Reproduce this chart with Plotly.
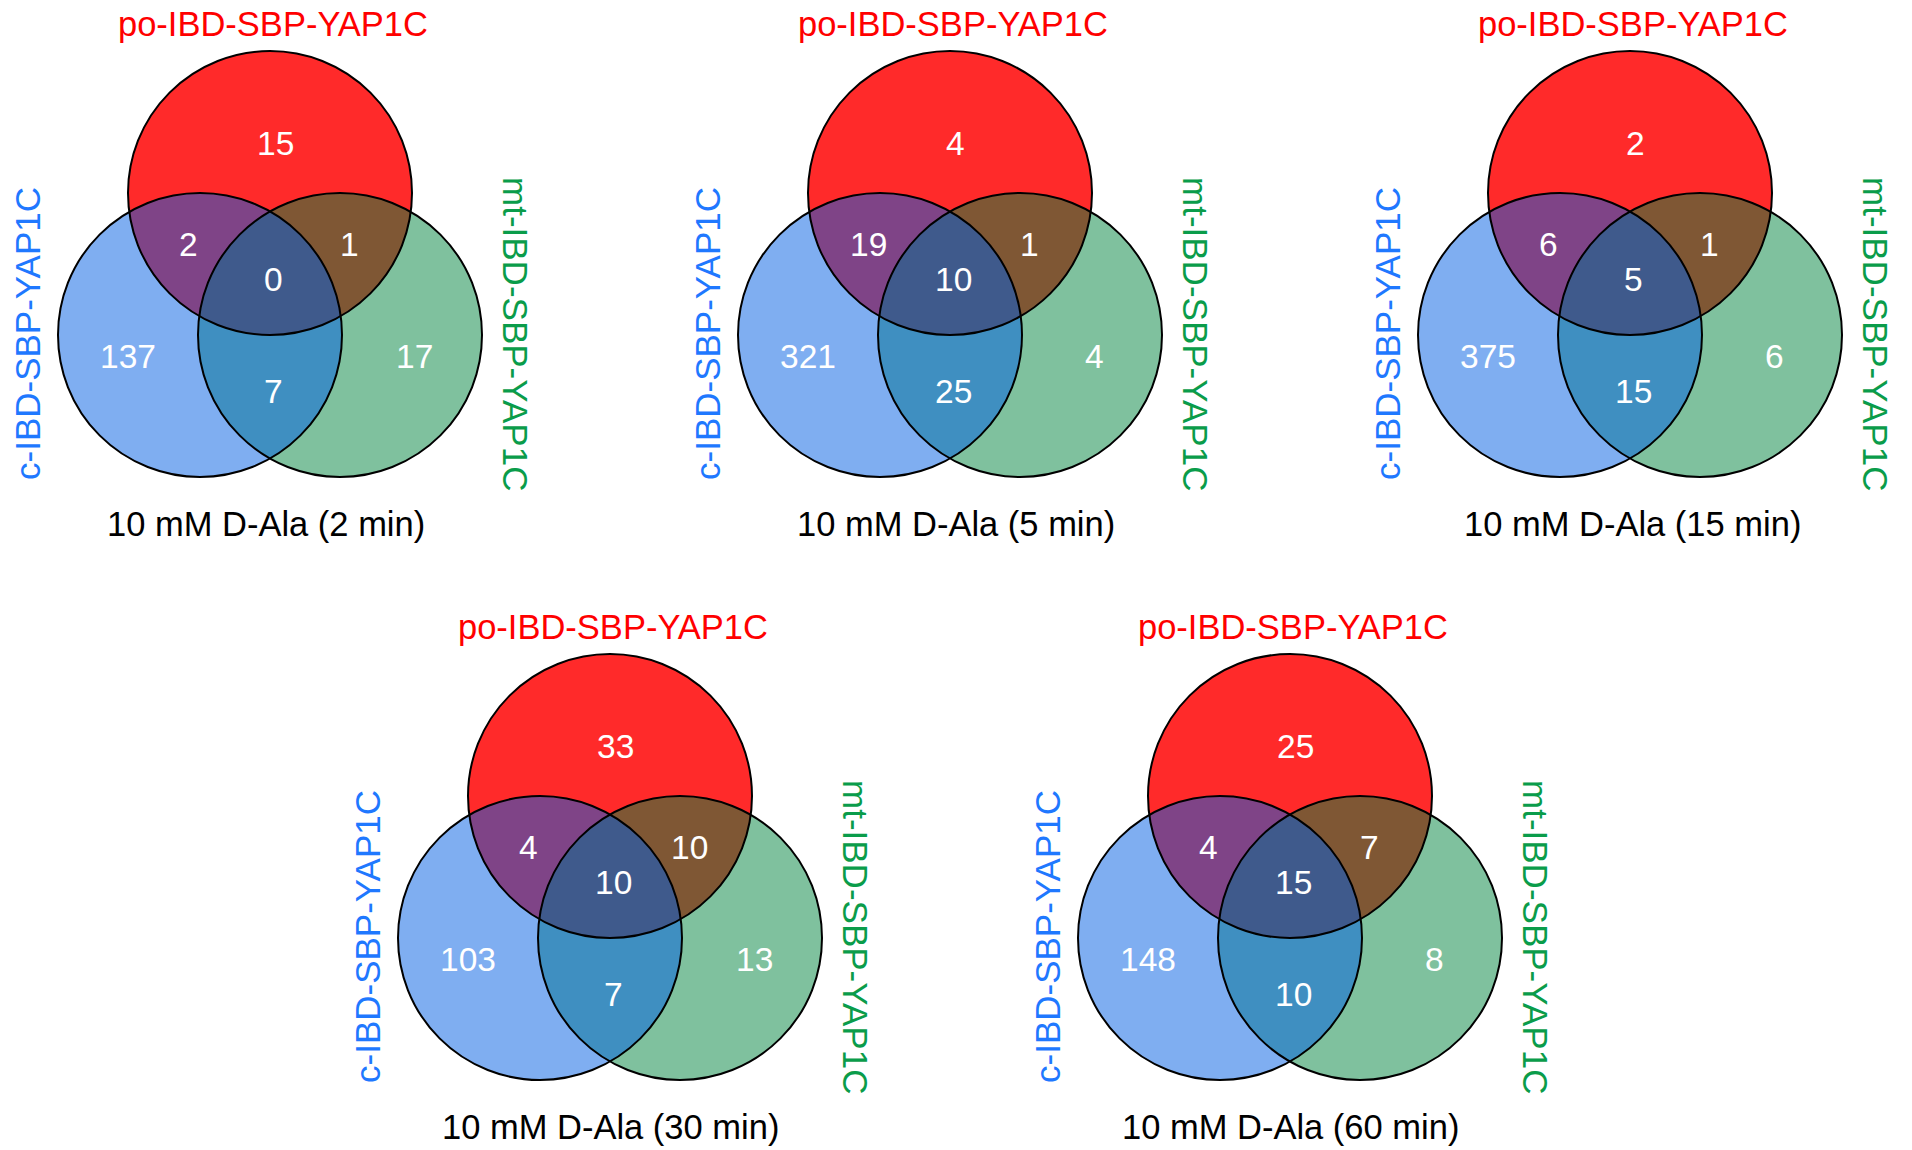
import plotly.graph_objects as go

# ---- data ----
set_top = "po-IBD-SBP-YAP1C"
set_left = "c-IBD-SBP-YAP1C"
set_right = "mt-IBD-SBP-YAP1C"
conditions = ["10 mM D-Ala (2 min)", "10 mM D-Ala (5 min)", "10 mM D-Ala (15 min)",
              "10 mM D-Ala (30 min)", "10 mM D-Ala (60 min)"]
# region order: po only, po&c, po&mt, all three, c only, mt only, c&mt
po_only = [15, 4, 2, 33, 25]
po_c = [2, 19, 6, 4, 4]
po_mt = [1, 1, 1, 10, 7]
all_three = [0, 10, 5, 10, 15]
c_only = [137, 321, 375, 103, 148]
mt_only = [17, 4, 6, 13, 8]
c_mt = [7, 25, 15, 7, 10]

# ---- layout (pixel coordinates) ----
W, H = 1912, 1150
panel_centers = [(270, 193), (950, 193), (1630, 193), (610, 796), (1290, 796)]
subtitle_dx = [-4, 6, 2, 0, 0]
R = 142
DX, DY = 70, 142
FONT = "Liberation Sans, Arial, sans-serif"

red_fill = "rgb(255,42,42)"
green_fill = "rgba(0,132,62,0.5)"
blue_fill = "rgba(0,93,228,0.5)"

shapes = []
annotations = []

region_offsets = [(5, -50), (-82, 51), (79, 51), (3, 86), (-142, 163), (144, 163), (3, 198)]

for i, (cx, cy) in enumerate(panel_centers):
    circles = [
        (cx, cy, red_fill),
        (cx + DX, cy + DY, green_fill),
        (cx - DX, cy + DY, blue_fill),
    ]
    for (x, y, col) in circles:
        shapes.append(dict(type="circle", xref="x", yref="y",
                           x0=x - R, x1=x + R, y0=y - R, y1=y + R,
                           fillcolor=col, line=dict(width=0), layer="below"))
    for (x, y, col) in circles:
        shapes.append(dict(type="circle", xref="x", yref="y",
                           x0=x - R, x1=x + R, y0=y - R, y1=y + R,
                           fillcolor="rgba(0,0,0,0)", line=dict(color="black", width=2),
                           layer="above"))
    vals = [po_only[i], po_c[i], po_mt[i], all_three[i], c_only[i], mt_only[i], c_mt[i]]
    for v, (ox, oy) in zip(vals, region_offsets):
        annotations.append(dict(x=cx + ox, y=cy + oy, xref="x", yref="y", text=str(v),
                                showarrow=False, font=dict(family=FONT, size=33.5, color="white")))
    annotations.append(dict(x=cx + 3, y=cy - 169, xref="x", yref="y", text=set_top,
                            showarrow=False, font=dict(family=FONT, size=34.5, color="#ff0000")))
    annotations.append(dict(x=cx - 243, y=cy + 141, xref="x", yref="y", text=set_left,
                            textangle=-90, showarrow=False,
                            font=dict(family=FONT, size=35, color="#1f78ff")))
    annotations.append(dict(x=cx + 246, y=cy + 141, xref="x", yref="y", text=set_right,
                            textangle=90, showarrow=False,
                            font=dict(family=FONT, size=35, color="#0a9c4a")))
    annotations.append(dict(x=cx + subtitle_dx[i], y=cy + 331, xref="x", yref="y",
                            text=conditions[i], showarrow=False,
                            font=dict(family=FONT, size=34.5, color="black")))

fig = go.Figure()
fig.add_trace(go.Scatter(x=[0, W], y=[0, H], mode="markers", marker=dict(opacity=0),
                         hoverinfo="skip", showlegend=False))
fig.update_layout(
    width=W, height=H,
    margin=dict(l=0, r=0, t=0, b=0),
    paper_bgcolor="white", plot_bgcolor="white",
    xaxis=dict(range=[0, W], visible=False, fixedrange=True),
    yaxis=dict(range=[H, 0], visible=False, fixedrange=True),
    shapes=shapes, annotations=annotations, showlegend=False,
)
fig.write_html("out.html", config={"displayModeBar": False},
               post_script="document.body.style.margin='0';document.body.style.overflow='hidden';")
